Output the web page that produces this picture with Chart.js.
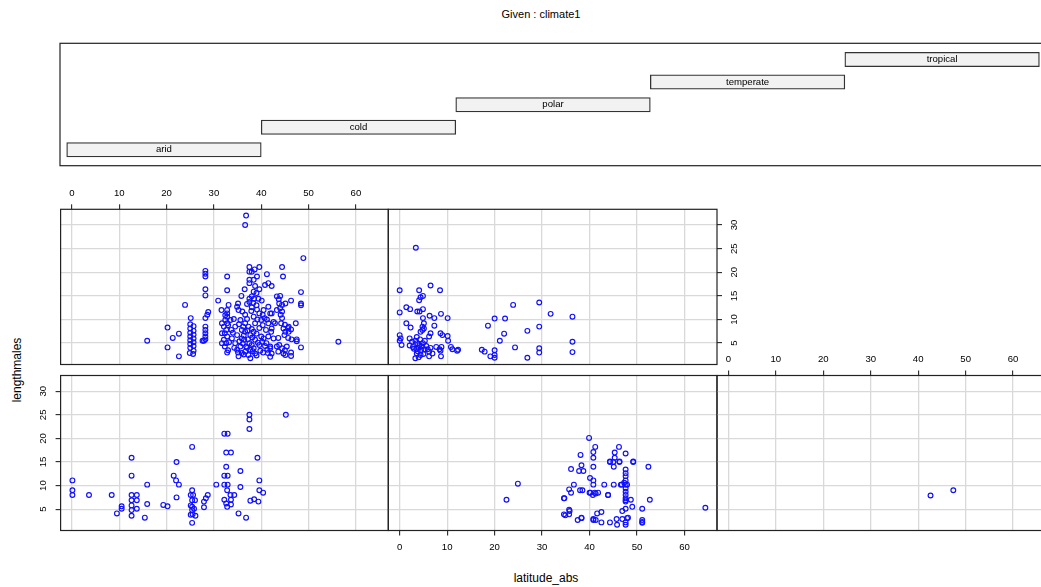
<!DOCTYPE html>
<html><head><meta charset="utf-8">
<script src="https://cdn.jsdelivr.net/npm/chart.js@4.4.1/dist/chart.umd.min.js"></script>
<style>
html,body{margin:0;padding:0;background:#fff;overflow:hidden;width:1041px;height:587px;position:relative;font-family:"Liberation Sans",Arial,sans-serif;}
canvas{position:absolute;}
.t{position:absolute;color:#000;white-space:nowrap;font-family:"Liberation Sans",Arial,sans-serif;}
</style></head><body>
<div class="t" style="left:441px;width:200px;top:8px;text-align:center;font-size:11px;">Given : climate1</div>
<div class="t" style="left:17px;top:370px;font-size:12px;transform:translate(-50%,-50%) rotate(-90deg);">lengthmales</div>
<div class="t" style="left:546px;top:578px;font-size:12px;transform:translate(-50%,-50%);">latitude_abs</div>
<script>
// ---------- data ----------
const climateLevels = ["arid", "cold", "polar", "temperate", "tropical"];
const xTickValues = [0, 10, 20, 30, 40, 50, 60];
const yTickValues = [5, 10, 15, 20, 25, 30];

const temperateLat = [36.8,36.6,48.9,44.4,44.6,39.6,37.5,38.6,38.0,37.5,39.1,41.2,37.5,38.4,37.5,38.7,39.6,40.8,41.5,42.2,36.5,35.8,38.4,39.0,38.0,37.5,38.5,39.4,40.1,37.5,38.3,39.0,38.0,37.0,35.1,34.9,35.2,33.1,
32.8,32.8,32.4,32.8,32.4,32.8,32.1,32.6,32.3,32.8,32.1,32.6,32.3,32.8,31.6,31.7,31.7,31.7,33.5,33.7,33.8,34.5,34.9,34.5,34.9,35.2,35.6,35.9,35.9,35.6,35.9,
36.6,36.6,36.6,36.4,36.8,36.6,37.3,37.7,37.5,37.7,37.7,37.3,38.4,38.7,38.4,38.7,38.4,38.7,39.6,40.0,39.6,40.0,39.6,39.8,40.5,40.7,41.0,40.5,40.8,
41.5,41.9,41.5,42.1,41.5,41.9,41.4,42.2,42.6,42.2,42.6,41.9,42.2,41.9,43.3,44.0,43.7,43.8,44.4,43.3,44.0,44.4,44.1,44.4,44.2,44.7,45.1,44.9,45.8,46.3,45.8,
47.3,47.5,48.4,48.4,48.4,48.4,45.1,46.3,43.3,43.8,44.4,45.0,45.4,43.6,44.7,45.1,46.3,46.3,56.3,
33.0,33.2,33.0,34.2,34.0,34.3,35.3,35.4,35.1,36.0,36.2,36.3,36.1,36.3,37.0,37.1,37.2,37.0,37.9,38.0,38.1,38.0,38.2,39.1,39.2,39.0,39.3,39.0,40.3,40.3,40.2,40.4,41.2,41.1,41.3,
42.9,45.0,45.7,43.6,45.7,46.4,47.5,
15.9,20.2,20.2,21.3,22.6,22.6,23.9,25.1,
25.0,25.7,25.0,25.7,25.0,25.7,25.0,25.7,25.0,25.7,25.0,25.7,25.0,25.7,24.9,25.6,27.9,27.6,
28.2,28.2,28.2,28.2,28.2,28.8,28.6,28.2,28.2,28.2,28.2,28.2,28.2,30.9,32.8,32.8];
const temperateLen = [32.0,30.0,23.0,21.1,19.1,21.1,21.1,20.6,20.1,20.1,19.1,19.6,18.4,18.4,17.7,17.1,16.4,17.3,17.7,17.1,16.4,15.0,15.9,15.6,14.9,14.4,14.4,14.4,14.0,13.7,13.5,13.0,12.6,13.3,13.4,12.7,12.0,13.1,
12.0,11.3,10.9,10.6,9.9,9.2,8.5,7.8,7.1,6.4,5.7,5.0,4.3,3.0,12.0,9.2,7.1,5.0,9.9,7.8,6.0,8.5,6.7,5.0,3.6,2.2,9.9,7.8,6.0,4.3,2.9,
11.0,9.2,7.4,5.7,4.3,3.2,8.5,6.7,5.0,3.6,1.8,2.5,10.6,9.2,7.4,5.7,3.9,2.8,11.3,9.9,8.2,6.4,4.6,3.4,12.0,10.3,7.8,6.0,4.4,
12.7,11.3,9.2,7.4,6.4,4.3,2.9,11.3,9.5,8.1,6.0,3.9,2.8,2.1,14.9,15.0,14.3,13.4,13.1,12.0,12.4,11.7,11.0,10.3,9.2,8.1,7.4,6.7,8.5,7.9,7.4,
9.2,5.8,4.1,15.8,13.4,13.0,13.4,14.0,4.3,4.6,3.9,3.5,4.3,3.2,2.8,2.5,3.0,2.3,5.3,
8.8,5.2,3.5,10.1,7.2,4.0,9.0,5.4,3.0,11.7,8.5,6.6,4.9,2.6,10.1,7.7,5.8,4.0,11.8,8.0,6.2,4.6,3.3,12.1,10.0,7.0,5.1,2.4,11.0,8.8,5.3,3.0,10.0,5.0,3.6,
9.2,8.9,8.2,6.1,6.1,5.8,5.4,
5.5,8.3,4.1,6.1,7.0,2.2,13.1,10.3,
9.0,8.6,8.1,7.6,7.2,6.8,6.4,6.0,5.6,5.2,4.8,4.4,4.0,3.4,2.9,2.7,5.5,5.5,
20.3,19.7,19.1,16.4,15.1,11.6,11.0,10.3,8.5,7.8,7.1,6.4,5.8,14.0,19.1,16.2];

const tropicalLat = [3.4,0.0,4.1,6.5,8.5,4.1,4.4,4.9,1.4,2.2,0.0,3.7,4.2,4.9,8.7,6.3,7.3,4.9,10.1,1.4,5.1,4.8,5.1,2.3,7.3,4.4,4.8,8.6,9.0,10.1,6.5,6.2,
0.0,0.2,0.0,0.4,2.1,2.6,3.3,3.7,2.1,2.8,3.5,4.2,4.7,5.2,3.8,4.5,5.6,3.0,4.0,4.9,5.3,4.3,3.6,10.2,6.5,5.9,6.2,7.7,8.4,8.8,8.6,10.8,11.1,12.3,12.1,
3.3,4.0,4.4,6.2,6.9,8.7,5.0,3.6,17.3,17.9,19.1,20.0,20.0,20.0,20.0,18.6,22.2,21.1,22.0,23.9,24.3,26.9,26.9,29.4,29.4,29.4,29.4,31.8,36.4,36.4,36.4];
const tropicalLen = [25.2,16.2,16.2,17.2,16.2,14.1,14.7,15.0,12.6,12.2,11.5,11.7,11.7,12.2,11.2,10.8,10.3,10.3,10.3,9.2,9.2,8.5,8.1,8.3,8.7,7.4,7.8,7.1,6.7,6.5,7.1,6.4,
6.7,6.0,5.5,4.6,6.0,5.3,5.5,5.0,4.5,4.2,3.8,4.6,4.3,3.7,3.3,3.5,4.4,3.8,4.0,5.0,5.5,5.8,6.3,5.5,4.0,3.7,3.2,4.2,3.7,4.2,3.4,4.2,3.7,3.6,3.4,
1.8,2.0,2.5,2.2,2.8,2.2,2.7,2.8,3.6,3.2,2.2,2.5,1.9,3.5,10.2,8.7,10.2,5.5,7.0,13.1,4.1,7.6,1.9,13.6,8.5,3.9,3.0,11.2,10.6,5.3,3.1];

const aridLat = [0.1,0.1,0.1,3.6,8.4,9.5,10.5,10.5,12.6,12.6,12.6,12.6,12.6,12.6,12.6,13.7,13.7,13.7,15.4,15.9,15.9,19.3,20.2,21.5,22.0,22.6,22.1,22.1,25.4,
25.4,25.1,25.6,25.4,26.0,25.1,25.4,25.8,25.4,25.5,25.1,26.1,25.4,27.9,27.9,28.3,28.7,30.5,
32.2,32.9,32.6,33.6,32.6,32.2,32.9,32.2,32.9,32.8,33.5,34.3,32.2,33.6,32.6,32.8,33.6,35.2,35.6,35.6,36.8,37.5,37.5,37.5,37.7,38.5,39.2,39.4,39.6,39.6,40.4,45.2];
const aridLen = [11.1,9.0,8.0,8.0,8.0,4.1,5.6,5.1,15.9,12.1,8.0,6.9,5.8,4.8,3.6,8.0,6.9,5.1,3.2,10.2,6.1,5.9,5.6,12.1,11.1,10.2,15.0,7.5,18.2,
9.0,8.0,8.0,6.9,6.9,5.8,5.5,5.1,4.8,3.9,3.8,3.6,2.1,6.6,5.4,7.3,8.0,10.2,
21.0,21.0,17.0,17.0,14.0,12.1,12.1,10.2,10.2,9.0,8.0,8.0,7.0,7.0,6.2,5.5,6.0,4.1,13.1,9.7,3.2,25.0,24.0,22.0,6.8,7.1,15.9,6.6,11.1,9.0,8.5,25.0];

const coldLat = [22.5,24.9,34.6,34.6,34.9,35.7,35.7,35.8,35.7,36.1,36.1,36.7,37.5,38.3,38.0,38.5,38.1,38.3,37.8,38.7,39.9,40.1,40.2,40.8,40.8,40.8,40.8,40.8,41.2,40.8,40.8,41.3,41.6,41.3,41.8,42.5,42.5,43.1,43.9,44.3,44.3,45.0,45.1,45.1,45.3,45.3,45.7,45.8,46.2,46.3,46.6,46.9,46.9,47.6,
47.6,47.6,47.6,47.6,47.6,47.6,47.6,47.6,47.6,47.6,47.6,47.6,47.6,47.6,
47.9,47.9,48.7,49.0,49.2,51.1,51.1,51.1,51.1,52.4,52.7,64.4,40.0,41.1,40.7,43.9,46.8,47.3,48.1,44.3,46.3,49.2,34.7,38.3];
const coldLen = [7.0,10.4,7.3,3.9,3.7,4.9,3.9,4.6,9.2,8.5,13.5,10.2,2.7,3.1,9.0,9.0,16.5,14.3,13.1,13.1,20.1,11.6,8.5,11.1,10.2,17.1,15.9,14.0,18.2,2.7,2.9,2.7,4.1,8.3,8.5,4.4,2.2,10.2,8.0,2.2,15.0,15.0,14.0,10.2,17.0,15.9,2.9,1.7,18.2,15.0,10.2,4.6,2.9,16.8,
13.4,12.6,12.0,11.1,10.2,9.4,8.7,8.0,7.3,6.9,6.6,5.1,2.2,1.7,
10.2,3.1,7.0,5.5,15.0,5.1,2.7,2.1,2.3,14.0,7.0,5.3,8.5,8.5,8.0,8.0,10.2,10.6,3.2,15.1,15.1,15.1,7.3,3.2];

const polarLat = [42.6, 47.4];
const polarLen = [7.9, 9.0];

// ---------- drawing ----------
const FONT = {family: "'Liberation Sans', Arial, sans-serif", size: 9.6};
const X_RANGE = [-2.4, 66.85];
const Y_RANGE = [0.48, 33.33];
const COLS = {left: [60.6, 388.3], mid: [388.3, 717], right: [717, 1045.6]};
const ROWS = {top: [209.3, 364.5], bottom: [375.5, 530.5]};

const framePlugin = {
  id: 'frame',
  afterDraw(chart) {
    const a = chart.chartArea, ctx = chart.ctx;
    ctx.save();
    ctx.strokeStyle = '#222';
    ctx.lineWidth = 1.2;
    ctx.strokeRect(a.left, a.top, a.right - a.left, a.bottom - a.top);
    ctx.restore();
  }
};

function makeCanvas(rect, M) {
  const cl = Math.floor(rect.l) - M, ct = Math.floor(rect.t) - M;
  const cr = Math.ceil(rect.r) + M, cb = Math.ceil(rect.b) + M;
  const c = document.createElement('canvas');
  c.width = cr - cl; c.height = cb - ct;
  c.style.left = cl + 'px'; c.style.top = ct + 'px';
  c.style.width = (cr - cl) + 'px'; c.style.height = (cb - ct) + 'px';
  document.body.appendChild(c);
  return {c, pad: {left: rect.l - cl, top: rect.t - ct, right: cr - rect.r, bottom: cb - rect.b}};
}

function panel(col, row, xs, ys, opt) {
  const rect = {l: COLS[col][0], r: COLS[col][1], t: ROWS[row][0], b: ROWS[row][1]};
  const {c, pad} = makeCanvas(rect, 30);
  const xPos = opt.xPos, yPos = opt.yPos;
  const layoutPad = {
    left: yPos === 'left' ? 0 : pad.left,
    right: yPos === 'right' ? 0 : pad.right,
    top: xPos === 'top' ? 0 : pad.top,
    bottom: xPos === 'bottom' ? 0 : pad.bottom
  };
  const zeroPad = s => { s.paddingLeft = s.paddingRight = s.paddingTop = s.paddingBottom = 0; };
  new Chart(c, {
    type: 'scatter',
    data: {datasets: [{
      data: xs.map((x, i) => ({x: x, y: ys[i]})),
      pointStyle: 'circle', pointRadius: 2.4, pointHoverRadius: 2.4,
      pointBorderWidth: 1.15, pointBorderColor: '#1010ff',
      pointBackgroundColor: 'rgba(0,0,0,0)'
    }]},
    options: {
      responsive: false, devicePixelRatio: 1, animation: false,
      events: [],
      layout: {padding: layoutPad},
      plugins: {legend: {display: false}, tooltip: {enabled: false}},
      scales: {
        x: {
          type: 'linear', position: xPos, min: X_RANGE[0], max: X_RANGE[1], offset: false,
          afterBuildTicks: s => { s.ticks = xTickValues.map(v => ({value: v})); },
          afterFit: s => { s.height = xPos === 'top' ? pad.top : pad.bottom; zeroPad(s); },
          grid: {color: '#d9d9d9', lineWidth: 1.3, drawTicks: !!opt.xLabels, tickLength: 5, tickColor: '#111', tickWidth: 1},
          border: {display: false},
          ticks: {display: !!opt.xLabels, font: FONT, color: '#000', padding: opt.xPad || 5, maxRotation: 0, autoSkip: false,
                  callback: v => String(v)}
        },
        y: {
          type: 'linear', position: yPos, min: Y_RANGE[0], max: Y_RANGE[1], offset: false,
          afterBuildTicks: s => { s.ticks = yTickValues.map(v => ({value: v})); },
          afterFit: s => { s.width = yPos === 'left' ? pad.left : pad.right; zeroPad(s); },
          grid: {color: '#d9d9d9', lineWidth: 1.3, drawTicks: !!opt.yLabels, tickLength: 5, tickColor: '#111', tickWidth: 1},
          border: {display: false},
          ticks: {display: !!opt.yLabels, font: FONT, color: '#000', padding: 7, minRotation: 90, maxRotation: 90,
                  crossAlign: 'center', autoSkip: false, callback: v => String(v)}
        }
      }
    },
    plugins: [framePlugin]
  });
}

// coplot panel order: bottom row left→right, then top row
panel('left', 'bottom', aridLat, aridLen, {xPos: 'bottom', yPos: 'left', yLabels: true});
panel('mid', 'bottom', coldLat, coldLen, {xPos: 'bottom', yPos: 'left', xLabels: true, xPad: 6});
panel('right', 'bottom', polarLat, polarLen, {xPos: 'top', yPos: 'left', xLabels: true, xPad: 5});
panel('left', 'top', temperateLat, temperateLen, {xPos: 'top', yPos: 'left', xLabels: true, xPad: 5.5});
panel('mid', 'top', tropicalLat, tropicalLen, {xPos: 'bottom', yPos: 'right', yLabels: true});

// ---------- shingle (given) panel ----------
(function () {
  const rect = {l: 60, r: 1046, t: 43.3, b: 165.7};
  const {c, pad} = makeCanvas(rect, 4);
  const labelPlugin = {
    id: 'barLabels',
    afterDatasetsDraw(chart) {
      const ctx = chart.ctx;
      const meta = chart.getDatasetMeta(0);
      ctx.save();
      ctx.font = "9.6px 'Liberation Sans', Arial, sans-serif";
      ctx.fillStyle = '#000';
      ctx.textAlign = 'center';
      ctx.textBaseline = 'middle';
      meta.data.forEach((bar, i) => {
        ctx.fillText(climateLevels[i], (bar.x + bar.base) / 2, bar.y);
      });
      ctx.restore();
    }
  };
  new Chart(c, {
    type: 'bar',
    data: {datasets: [{
      data: climateLevels.map((name, i) => ({x: [i + 0.5, i + 1.5], y: i + 1})),
      backgroundColor: '#f2f2f2', borderColor: '#333', borderWidth: 1.3,
      borderSkipped: false, barThickness: 14.4
    }]},
    options: {
      indexAxis: 'y', responsive: false, devicePixelRatio: 1, animation: false, events: [],
      layout: {padding: pad},
      plugins: {legend: {display: false}, tooltip: {enabled: false}},
      scales: {
        x: {type: 'linear', min: 0.4656, max: 5.534, display: false, offset: false},
        y: {type: 'linear', min: 0.297, max: 5.717, display: false, offset: false}
      }
    },
    plugins: [framePlugin, labelPlugin]
  });
})();
</script>
</body></html>
